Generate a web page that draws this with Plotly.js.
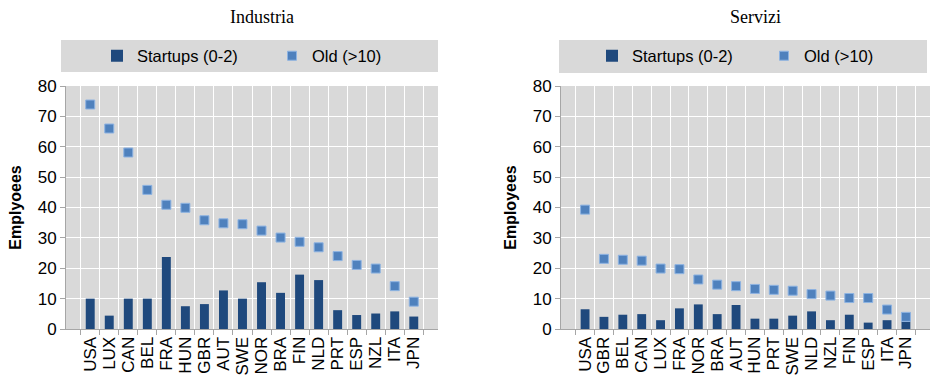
<!DOCTYPE html>
<html>
<head>
<meta charset="utf-8">
<script src="https://cdn.plot.ly/plotly-3.0.1.min.js"></script>
<style>html,body{margin:0;padding:0;background:#fff;}#chart{width:944px;height:390px;}</style>
</head>
<body>
<div id="chart"></div>
<script>
const indCountries = ["USA","LUX","CAN","BEL","FRA","HUN","GBR","AUT","SWE","NOR","BRA","FIN","NLD","PRT","ESP","NZL","ITA","JPN"];
const indStartups = [10,4.4,10,10,23.7,7.5,8.2,12.7,10,15.4,11.9,17.9,16.1,6.2,4.6,5.1,5.8,4.1];
const indOld = [73.9,66.0,58.1,45.8,40.9,39.9,35.8,34.8,34.5,32.4,30.1,28.7,26.9,24.0,21.1,19.9,14.1,9.0];

const serCountries = ["USA","GBR","BEL","CAN","LUX","FRA","NOR","BRA","AUT","HUN","PRT","SWE","NLD","NZL","FIN","ESP","ITA","JPN"];
const serStartups = [6.5,4.0,4.7,4.9,2.9,6.8,8.1,4.9,7.9,3.4,3.4,4.4,5.8,2.9,4.7,2.1,2.9,2.4];
const serOld = [39.3,23.1,22.8,22.5,19.9,19.7,16.3,14.6,14.1,13.2,12.9,12.6,11.5,11.0,10.2,10.2,6.4,4.0];

const W = 944, H = 390;
const barColor = '#1f497d';
const oldColor = '#4f81bd';
const font = 'Liberation Sans, Arial, sans-serif';

function px(x){return x/W;}
function py(y){return (H-y)/H;}

const oldMarker = {symbol:'square', size:9, color:oldColor, line:{color:'#8db3e2', width:1}};

const traces = [
  {type:'bar', x:indCountries, y:indStartups, name:'Startups (0-2)', marker:{color:barColor}, width:0.47, xaxis:'x', yaxis:'y', legend:'legend'},
  {type:'scatter', mode:'markers', x:indCountries, y:indOld, name:'Old (>10)', marker:oldMarker, xaxis:'x', yaxis:'y', legend:'legend2'},
  {type:'bar', x:serCountries, y:serStartups, name:'Startups (0-2)', marker:{color:barColor}, width:0.47, xaxis:'x2', yaxis:'y2', legend:'legend3'},
  {type:'scatter', mode:'markers', x:serCountries, y:serOld, name:'Old (>10)', marker:oldMarker, xaxis:'x2', yaxis:'y2', legend:'legend4'}
];

const yDom = [py(329), py(86)];
const xAx = (dom, anchor) => ({
  domain: dom, anchor: anchor, type:'category',
  tickmode:'linear', tick0:0, dtick:1,
  tickangle:-90, tickfont:{family:font, size:17, color:'#000'},
  showgrid:true, gridcolor:'#ffffff', gridwidth:1,
  tickson:'boundaries', ticks:'outside', ticklen:5, tickcolor:'#a6a6a6',
  showline:true, linecolor:'#a6a6a6', linewidth:1, zeroline:false,
  fixedrange:true
});
const yAx = (anchor, title) => ({
  domain: yDom, anchor: anchor, range:[0,80], dtick:10,
  tickfont:{family:font, size:17, color:'#000'},
  showgrid:true, gridcolor:'#ffffff', gridwidth:1,
  ticks:'outside', ticklen:5, tickcolor:'#a6a6a6',
  showline:true, linecolor:'#a6a6a6', linewidth:1, zeroline:false,
  title:{text:title, font:{family:font, size:16, color:'#000', weight:'bold'}, standoff:12},
  fixedrange:true
});

const legendBase = {
  orientation:'h', xanchor:'left', yanchor:'middle',
  bgcolor:'rgba(0,0,0,0)', borderwidth:0, font:{family:font, size:16.5, color:'#000'},
  itemwidth:30, tracegroupgap:0
};
const lg = (textX) => Object.assign({}, legendBase, {x:px(textX - 40), y:py(56)});

const layout = {
  width:W, height:H,
  margin:{l:0, r:0, t:0, b:0},
  paper_bgcolor:'#ffffff',
  plot_bgcolor:'#d9d9d9',
  xaxis: xAx([px(66), px(438)], 'y'),
  yaxis: yAx('x', 'Emplyoees'),
  xaxis2: xAx([px(561), px(930)], 'y2'),
  yaxis2: yAx('x2', 'Employees'),
  legend: lg(137),
  legend2: lg(312),
  legend3: lg(632),
  legend4: lg(804),
  shapes: [
    {type:'rect', xref:'paper', yref:'paper', x0:px(61), x1:px(438), y0:py(72), y1:py(40), fillcolor:'#d9d9d9', line:{width:0}, layer:'below'},
    {type:'rect', xref:'paper', yref:'paper', x0:px(559), x1:px(927), y0:py(73), y1:py(40), fillcolor:'#d9d9d9', line:{width:0}, layer:'below'}
  ],
  annotations: [
    {text:'Industria', xref:'paper', yref:'paper', x:px(262), y:py(17), xanchor:'center', yanchor:'middle', showarrow:false, font:{family:'Liberation Serif, Times New Roman, serif', size:18, color:'#000'}},
    {text:'Servizi', xref:'paper', yref:'paper', x:px(755), y:py(17), xanchor:'center', yanchor:'middle', showarrow:false, font:{family:'Liberation Serif, Times New Roman, serif', size:18, color:'#000'}}
  ],
  showlegend:true
};

Plotly.newPlot('chart', traces, layout, {staticPlot:true, displayModeBar:false});
</script>
</body>
</html>
